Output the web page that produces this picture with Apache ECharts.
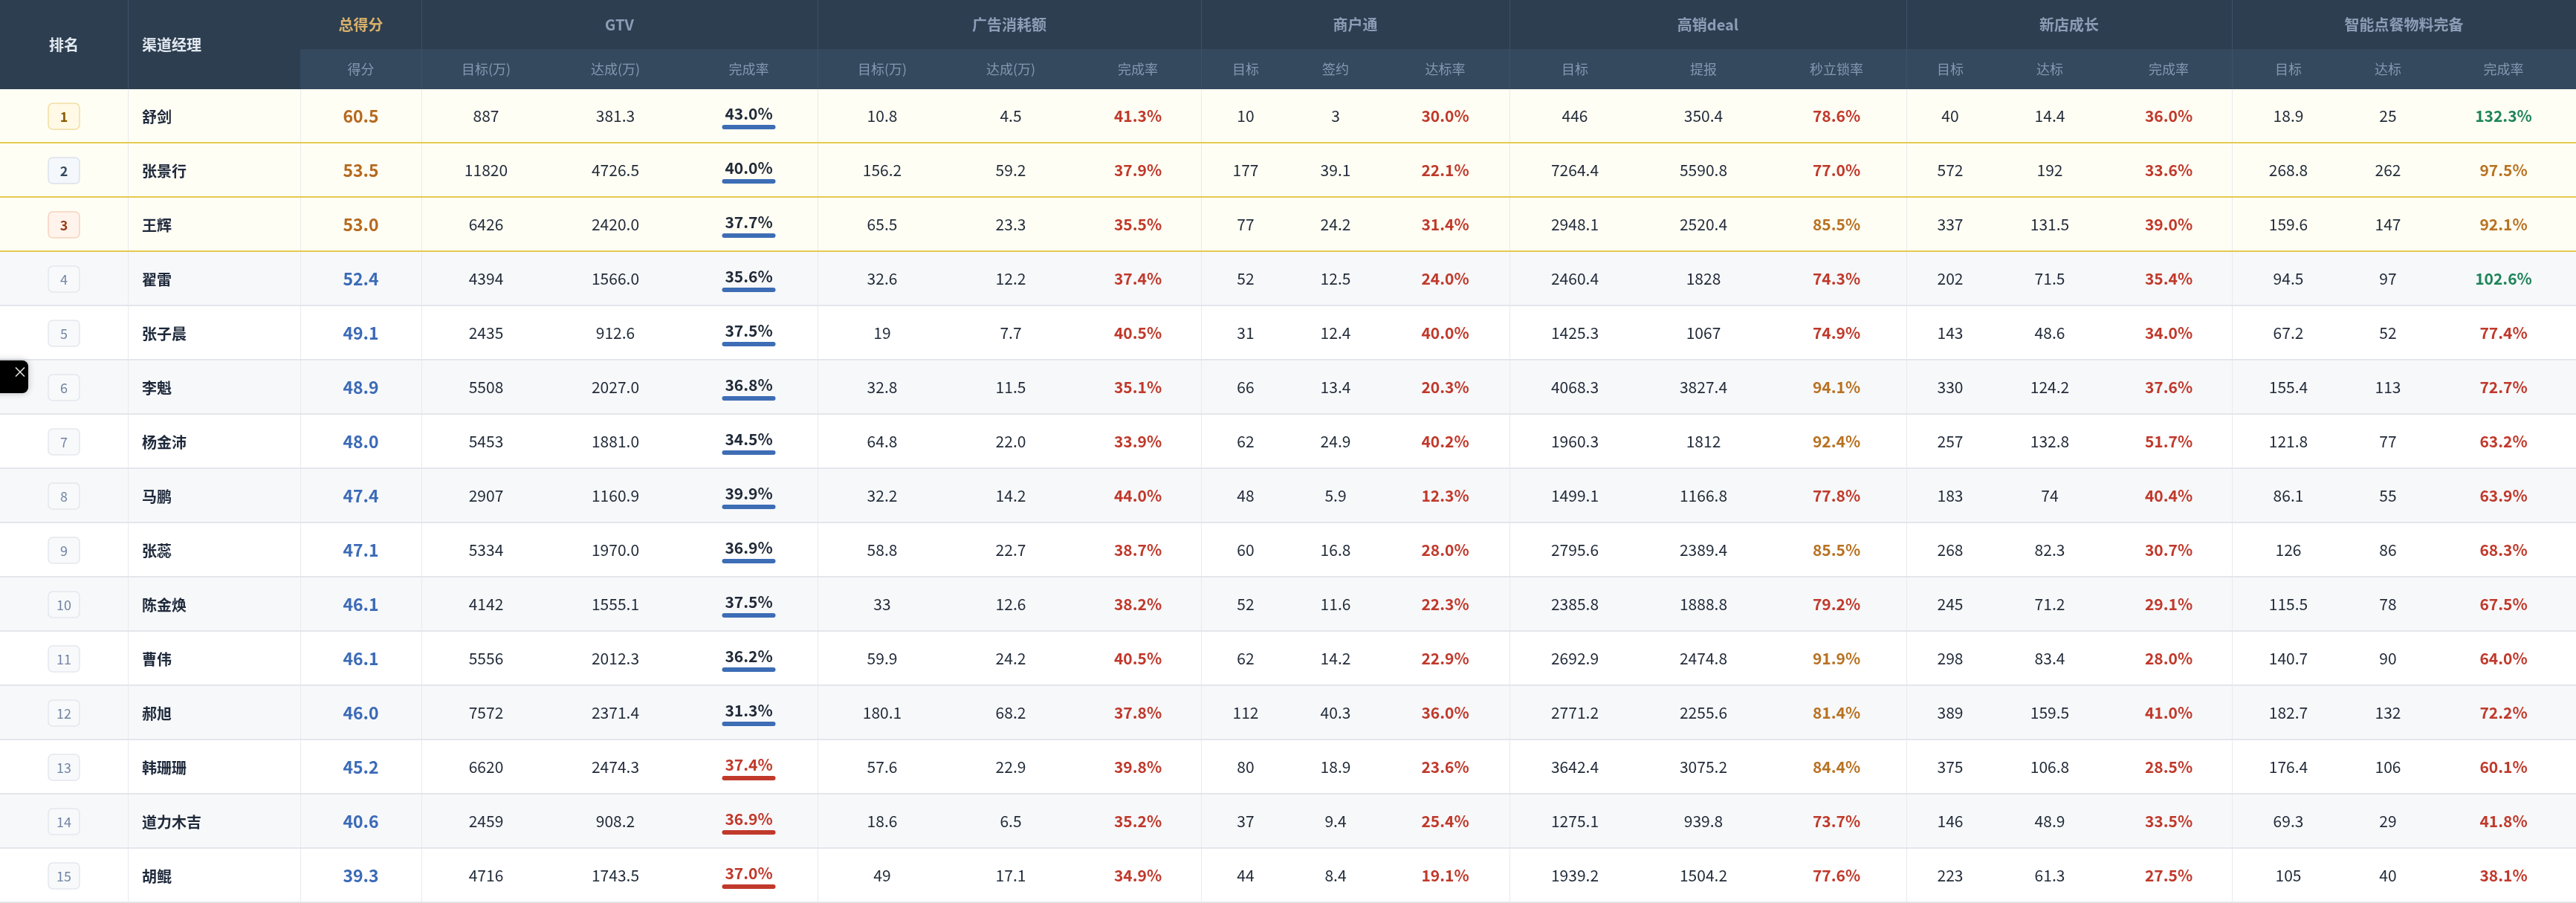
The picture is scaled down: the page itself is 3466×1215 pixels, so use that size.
<!DOCTYPE html>
<html><head><meta charset="utf-8">
<script src="https://cdn.jsdelivr.net/npm/echarts@6/dist/echarts.min.js"></script>
<style>html,body{margin:0;padding:0;background:#fff;overflow:hidden}#c{width:3466px;height:1215px}</style>
</head><body><div id="c"></div>
<script>
// ---------- DATA ----------
const ranks = [1,2,3,4,5,6,7,8,9,10,11,12,13,14,15];
const names = ['舒剑','张景行','王辉','翟雷','张子晨','李魁','杨金沛','马鹏','张蕊','陈金焕','曹伟','郝旭','韩珊珊','道力木吉','胡鲲'];
const scores = [60.5,53.5,53.0,52.4,49.1,48.9,48.0,47.4,47.1,46.1,46.1,46.0,45.2,40.6,39.3];
const gtvTarget = [887,11820,6426,4394,2435,5508,5453,2907,5334,4142,5556,7572,6620,2459,4716];
const gtvActual = [381.3,4726.5,2420.0,1566.0,912.6,2027.0,1881.0,1160.9,1970.0,1555.1,2012.3,2371.4,2474.3,908.2,1743.5];
const gtvRate = [43.0,40.0,37.7,35.6,37.5,36.8,34.5,39.9,36.9,37.5,36.2,31.3,37.4,36.9,37.0];
const adTarget = [10.8,156.2,65.5,32.6,19,32.8,64.8,32.2,58.8,33,59.9,180.1,57.6,18.6,49];
const adActual = [4.5,59.2,23.3,12.2,7.7,11.5,22.0,14.2,22.7,12.6,24.2,68.2,22.9,6.5,17.1];
const adRate = [41.3,37.9,35.5,37.4,40.5,35.1,33.9,44.0,38.7,38.2,40.5,37.8,39.8,35.2,34.9];
const shtTarget = [10,177,77,52,31,66,62,48,60,52,62,112,80,37,44];
const shtSigned = [3,39.1,24.2,12.5,12.4,13.4,24.9,5.9,16.8,11.6,14.2,40.3,18.9,9.4,8.4];
const shtRate = [30.0,22.1,31.4,24.0,40.0,20.3,40.2,12.3,28.0,22.3,22.9,36.0,23.6,25.4,19.1];
const dealTarget = [446,7264.4,2948.1,2460.4,1425.3,4068.3,1960.3,1499.1,2795.6,2385.8,2692.9,2771.2,3642.4,1275.1,1939.2];
const dealReported = [350.4,5590.8,2520.4,1828,1067,3827.4,1812,1166.8,2389.4,1888.8,2474.8,2255.6,3075.2,939.8,1504.2];
const dealRate = [78.6,77.0,85.5,74.3,74.9,94.1,92.4,77.8,85.5,79.2,91.9,81.4,84.4,73.7,77.6];
const storeTarget = [40,572,337,202,143,330,257,183,268,245,298,389,375,146,223];
const storeReached = [14.4,192,131.5,71.5,48.6,124.2,132.8,74,82.3,71.2,83.4,159.5,106.8,48.9,61.3];
const storeRate = [36.0,33.6,39.0,35.4,34.0,37.6,51.7,40.4,30.7,29.1,28.0,41.0,28.5,33.5,27.5];
const smartTarget = [18.9,268.8,159.6,94.5,67.2,155.4,121.8,86.1,126,115.5,140.7,182.7,176.4,69.3,105];
const smartReached = [25,262,147,97,52,113,77,55,86,78,90,132,106,29,40];
const smartRate = [132.3,97.5,92.1,102.6,77.4,72.7,63.2,63.9,68.3,67.5,64.0,72.2,60.1,41.8,38.1];

const fixedTitles = ['排名','渠道经理'];
const scoreTitle = '总得分';
const scoreSubTitle = '得分';
const groupTitles = ['GTV','广告消耗额','商户通','高销deal','新店成长','智能点餐物料完备'];
const subTitles = ['目标(万)','达成(万)','完成率','目标(万)','达成(万)','完成率','目标','签约','达标率','目标','提报','秒立锁率','目标','达标','完成率','目标','达标','完成率'];

// ---------- LAYOUT / STYLE ----------
const W = 3466, HEAD_H = 120, HEAD_TOP = 66;
const colEdges = [0,172,404,567,741,915,1100,1274,1446,1616,1736,1858,2031,2207,2377,2565,2683,2833,3003,3155,3271,3466];
const groupEdges = [567,1100,1616,2031,2565,3003,3466];
const vLines = [172,404,567,1100,1616,2031,2565,3003];
const FONT = '"Noto Sans CJK SC","Noto Sans",sans-serif';

const C = {
  head1:'#2c3e50', head2:'#34495e', headLine:'#3d5068',
  headFixed:'#e3e9f1', headGold:'#d8b06a', headGroup:'#8d9db6', headSub:'#8598b2',
  text:'#1f2937', name:'#1e293b',
  scoreTop:'#b5691f', scoreBlue:'#3b6ab7',
  red:'#c0392b', orange:'#b87222', green:'#1e845a', bar:'#3d6db5',
  rowTop:'#fffef4', rowGray:'#f7f8fa', rowWhite:'#ffffff',
  lineTop:'#e5ca4e', lineGray:'#e3e6eb', vline:'#e8eaee'
};
const badgeStyle = [
  {fill:'#fff9e6', stroke:'#f1dea2', color:'#8a5a00', weight:'bold'},
  {fill:'#f4f7fb', stroke:'#dbe2ec', color:'#34495e', weight:'bold'},
  {fill:'#fff3ec', stroke:'#f6d2bf', color:'#9a3c12', weight:'bold'}
];
const badgeDefault = {fill:'#f8f9fb', stroke:'#e3e7ed', color:'#7084a3', weight:'normal'};

function rateColor(v){ return v >= 100 ? C.green : (v >= 80 ? C.orange : C.red); }
const f1 = v => v.toFixed(1);
const raw = v => String(v);
const pct = v => v.toFixed(1) + '%';

// column definitions (index 3..20)
const valueCols = [
  {arr:gtvTarget, fmt:raw}, {arr:gtvActual, fmt:f1}, {arr:gtvRate, fmt:pct, gtv:true},
  {arr:adTarget, fmt:raw}, {arr:adActual, fmt:f1}, {arr:adRate, fmt:pct, rate:true},
  {arr:shtTarget, fmt:raw}, {arr:shtSigned, fmt:raw}, {arr:shtRate, fmt:pct, rate:true},
  {arr:dealTarget, fmt:raw}, {arr:dealReported, fmt:raw}, {arr:dealRate, fmt:pct, rate:true},
  {arr:storeTarget, fmt:raw}, {arr:storeReached, fmt:raw}, {arr:storeRate, fmt:pct, rate:true},
  {arr:smartTarget, fmt:raw}, {arr:smartReached, fmt:raw}, {arr:smartRate, fmt:pct, rate:true}
];

function txt(text, x, y, size, weight, fill, align){
  return {type:'text', style:{text:text, x:x, y:y, fontSize:size, fontWeight:weight, fontFamily:FONT,
    fill:fill, align:align||'center', verticalAlign:'middle'}};
}

// ---------- ROWS ----------
const rowData = ranks.map((r,i)=>[0, i, W]);
function renderRow(params, api){
  const r = api.value(1);
  const p0 = api.coord([0, r]), p1 = api.coord([W, r]);
  const h = api.size([0,1])[1];
  const top = p0[1] - h/2;
  const isTop = r < 3;
  const fill = isTop ? C.rowTop : (r % 2 === 1 ? C.rowGray : C.rowWhite);
  const children = [{type:'rect', shape:{x:p0[0], y:top, width:p1[0]-p0[0], height:h}, style:{fill:fill}}];
  vLines.forEach(x=>{
    const px = Math.round(api.coord([x, r])[0]) + 0.5;
    children.push({type:'line', shape:{x1:px, y1:top, x2:px, y2:top+h}, style:{stroke:C.vline, lineWidth:1}});
  });
  children.push({type:'line', shape:{x1:p0[0], y1:top+h-1, x2:p1[0], y2:top+h-1},
    style:{stroke:isTop ? C.lineTop : C.lineGray, lineWidth:isTop ? 2 : 2}});
  return {type:'group', children:children};
}

// ---------- CELLS ----------
const cellData = [];
ranks.forEach((rk,i)=>{ for(let c=0;c<colEdges.length-1;c++) cellData.push([colEdges[c], i, colEdges[c+1], c]); });
function renderCell(params, api){
  const x0 = api.value(0), r = api.value(1), x1 = api.value(2), c = api.value(3);
  const p0 = api.coord([x0, r]), p1 = api.coord([x1, r]);
  const cx = (p0[0]+p1[0])/2, cy = p0[1];
  const isTop = r < 3;
  if (c === 0){
    const s = r < 3 ? badgeStyle[r] : badgeDefault;
    return {type:'group', children:[
      {type:'rect', shape:{x:cx-21, y:cy-17.5, width:42, height:35, r:6}, style:{fill:s.fill, stroke:s.stroke, lineWidth:1.5}},
      txt(String(ranks[r]), cx, cy+1, 18, s.weight, s.color)
    ]};
  }
  if (c === 1) return txt(names[r], p0[0]+19, cy+1, 20, 'bold', C.name, 'left');
  if (c === 2) return txt(scores[r].toFixed(1), cx, cy, 23, 'bold', isTop ? C.scoreTop : C.scoreBlue);
  const col = valueCols[c-3];
  const v = col.arr[r];
  if (col.gtv){
    const warn = ranks[r] > ranks.length - 3;
    return {type:'group', children:[
      txt(col.fmt(v), cx, cy-3, 21, 'bold', warn ? C.red : C.text),
      {type:'rect', shape:{x:cx-36, y:cy+11.5, width:72, height:6, r:3}, style:{fill: warn ? C.red : C.bar}}
    ]};
  }
  if (col.rate) return txt(col.fmt(v), cx, cy, 21, 'bold', rateColor(v));
  return txt(col.fmt(v), cx, cy, 21, 'normal', C.text);
}

// ---------- HEADER ----------
const headerCells = [];
headerCells.push({x0:0, y0:0, x1:404, y1:HEAD_H, fill:C.head1});
headerCells.push({x0:404, y0:0, x1:W, y1:HEAD_TOP, fill:C.head1});
headerCells.push({x0:404, y0:HEAD_TOP, x1:W, y1:HEAD_H, fill:C.head2});
headerCells.push({x0:colEdges[0], y0:0, x1:colEdges[1], y1:HEAD_H, text:fixedTitles[0], size:20, weight:'bold', color:C.headFixed});
headerCells.push({x0:colEdges[1], y0:0, x1:colEdges[2], y1:HEAD_H, text:fixedTitles[1], size:20, weight:'bold', color:C.headFixed, left:19});
headerCells.push({x0:colEdges[2], y0:0, x1:colEdges[3], y1:HEAD_TOP, text:scoreTitle, size:20, weight:'bold', color:C.headGold});
headerCells.push({x0:colEdges[2], y0:HEAD_TOP, x1:colEdges[3], y1:HEAD_H, text:scoreSubTitle, size:18, weight:'normal', color:C.headSub});
groupTitles.forEach((g,i)=>headerCells.push({x0:groupEdges[i], y0:0, x1:groupEdges[i+1], y1:HEAD_TOP, text:g, size:20, weight:'bold', color:C.headGroup}));
subTitles.forEach((s,i)=>headerCells.push({x0:colEdges[i+3], y0:HEAD_TOP, x1:colEdges[i+4], y1:HEAD_H, text:s, size:18, weight:'normal', color:C.headSub}));
[172,567,1100,1616,2031,2565,3003].forEach(x=>headerCells.push({x0:x, y0:0, x1:x, y1:HEAD_H, line:true}));
const headerData = headerCells.map(h=>[h.x0, h.y0, h.x1, h.y1]);
function renderHeader(params, api){
  const h = headerCells[params.dataIndex];
  const a = api.coord([api.value(0), api.value(1)]), b = api.coord([api.value(2), api.value(3)]);
  if (h.line){
    const x = Math.round(a[0]) + 0.5;
    return {type:'line', shape:{x1:x, y1:a[1], x2:x, y2:b[1]}, style:{stroke:C.headLine, lineWidth:1}};
  }
  if (h.fill) return {type:'rect', shape:{x:a[0], y:a[1], width:b[0]-a[0], height:b[1]-a[1]}, style:{fill:h.fill}};
  const cy = (a[1]+b[1])/2;
  if (h.left) return txt(h.text, a[0]+h.left, cy, h.size, h.weight, h.color, 'left');
  return txt(h.text, (a[0]+b[0])/2, cy, h.size, h.weight, h.color);
}

// ---------- CHART ----------
const chart = echarts.init(document.getElementById('c'), null, {renderer:'canvas'});
chart.setOption({
  animation:false,
  backgroundColor:'#ffffff',
  grid:[
    {left:0, right:0, top:HEAD_H, bottom:0},
    {left:0, right:0, top:0, height:HEAD_H}
  ],
  xAxis:[
    {type:'value', min:0, max:W, show:false, gridIndex:0},
    {type:'value', min:0, max:W, show:false, gridIndex:1}
  ],
  yAxis:[
    {type:'category', data:ranks.map(String), inverse:true, show:false, gridIndex:0},
    {type:'value', min:0, max:HEAD_H, inverse:true, show:false, gridIndex:1}
  ],
  series:[
    {type:'custom', name:'rows', xAxisIndex:0, yAxisIndex:0, data:rowData, encode:{x:[0,2], y:1}, renderItem:renderRow, silent:true},
    {type:'custom', name:'cells', xAxisIndex:0, yAxisIndex:0, data:cellData, encode:{x:[0,2], y:1}, renderItem:renderCell, silent:true},
    {type:'custom', name:'header', xAxisIndex:1, yAxisIndex:1, data:headerData, encode:{x:[0,2], y:[1,3]}, renderItem:renderHeader, silent:true}
  ],
  graphic:[
    {type:'rect', left:-12, top:485, shape:{width:50, height:44, r:8}, style:{fill:'#000', shadowBlur:10, shadowColor:'rgba(0,0,0,0.25)'}, z:100},
    {type:'text', left:17, top:490, style:{text:'×', fill:'#e6e6e6', fontSize:20, fontFamily:FONT}, z:101}
  ]
});
</script>
</body></html>
